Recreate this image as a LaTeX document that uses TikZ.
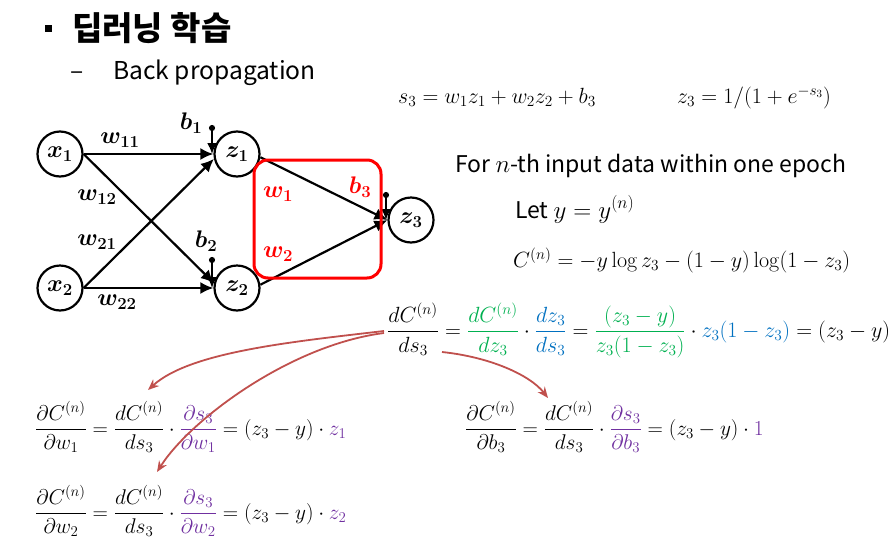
\RequirePackage{fix-cm}
\documentclass[tikz,border=0pt]{standalone}
\usepackage{amsmath,bm}
\usepackage[no-math]{fontspec}
\setmainfont{Noto Sans CJK KR}
\usetikzlibrary{arrows.meta}
\definecolor{cgreen}{RGB}{0,176,80}
\definecolor{cblue}{RGB}{0,112,192}
\definecolor{cpurple}{RGB}{112,48,160}
\definecolor{carrow}{RGB}{192,80,77}
\newcommand{\bigmath}[1]{{\fontsize{25}{28}\selectfont$#1$}}
\begin{document}
\begin{tikzpicture}[x=1pt,y=-1pt,
  neuron/.style={circle,draw,line width=2.2pt,minimum size=45pt,inner sep=0pt,font=\fontsize{24}{26}\selectfont},
  conn/.style={line width=2.2pt,-{Latex[length=13pt,width=12pt]}},
  biasline/.style={line width=2pt,{Circle[length=6pt]}-{Latex[length=11pt,width=10pt]}},
  lab/.style={inner sep=0pt,font=\fontsize{24}{26}\selectfont},
  eq/.style={inner sep=0pt,anchor=base west,font=\fontsize{22}{26}\selectfont},
  eqb/.style={eq,font=\fontsize{21.3}{26}\selectfont},
  txt/.style={inner sep=0pt,anchor=base west},
  backarrow/.style={carrow,line width=1.8pt,-{Stealth[length=11pt,width=9pt]}}
]
\useasboundingbox (0,0) rectangle (893,549);
% title
\node[fill=black,minimum size=7pt,inner sep=0pt] (bullet) at (48,28) {};
\node[txt,font=\fontsize{33}{36}\selectfont\bfseries] (title) at (72,40) {딥러닝 학습};
\node[txt,font=\fontsize{24.6}{28}\selectfont] (dash) at (70,79) {–};
\node[txt,font=\fontsize{24.6}{28}\selectfont] (sub) at (113,79) {Back propagation};
% network
\node[neuron] (x1) at (60,154) {$\bm{x_1}$};
\node[neuron] (x2) at (60,288) {$\bm{x_2}$};
\node[neuron] (z1) at (237,154) {$\bm{z_1}$};
\node[neuron] (z2) at (237,288) {$\bm{z_2}$};
\node[neuron] (z3) at (411,220) {$\bm{z_3}$};
\draw[conn] (x1.east) -- (z1.west);
\draw[conn] (x1.east) -- (z2.168);
\draw[conn] (x2.east) -- (z1.192);
\draw[conn] (x2.east) -- (z2.west);
\draw[conn] (z1.-8) -- (z3.west);
\draw[conn] (z2.8) -- (z3.west);
\coordinate (b1p) at (212,125);
\coordinate (b2p) at (212,257);
\coordinate (b3p) at (386,192);
\draw[biasline] (b1p) -- (b1p |- z1.center);
\draw[biasline] (b2p) -- (b2p |- z2.center);
\draw[biasline] (b3p) -- (b3p |- z3.center);
\node[lab] (lb1) at (191,123) {$\bm{b_1}$};
\node[lab] (lb2) at (206,241) {$\bm{b_2}$};
\node[lab,text=red] (lb3) at (360,187) {$\bm{b_3}$};
\node[lab] (lw11) at (120,140) {$\bm{w_{11}}$};
\node[lab] (lw12) at (97,197) {$\bm{w_{12}}$};
\node[lab] (lw21) at (97,242) {$\bm{w_{21}}$};
\node[lab] (lw22) at (117,302) {$\bm{w_{22}}$};
\node[lab,text=red] (lw1) at (278,194) {$\bm{w_1}$};
\node[lab,text=red] (lw2) at (278,254) {$\bm{w_2}$};
\node[draw=red,line width=3pt,rounded corners=14pt,minimum width=127pt,minimum height=118pt,inner sep=0pt] (box) at (317.5,219) {};
% equations
\node[eq] (e1) at (398,103) {$s_3 = w_1 z_1 + w_2 z_2 + b_3$};
\node[eq] (e2) at (677,103) {$z_3 = 1/(1+e^{-s_3})$};
\node[txt,font=\fontsize{23}{26}\selectfont] (for) at (455,172) {For \bigmath{n}-th input data within one epoch};
\node[txt,font=\fontsize{23}{26}\selectfont] (let) at (515,218) {Let \bigmath{y = y^{(n)}}};
\node[eq] (cost) at (513,267) {$C^{(n)} = -y\log z_3 - (1-y)\log(1-z_3)$};
\node[eq] (main) at (387,337) {$\dfrac{dC^{(n)}}{ds_3} = {\color{cgreen}\dfrac{dC^{(n)}}{dz_3}}\cdot{\color{cblue}\dfrac{dz_3}{ds_3}} = {\color{cgreen}\dfrac{(z_3-y)}{z_3(1-z_3)}}\cdot{\color{cblue}z_3(1-z_3)} = (z_3-y)$};
\node[eqb] (gw1) at (35,435) {$\dfrac{\partial C^{(n)}}{\partial w_1} = \dfrac{dC^{(n)}}{ds_3}\cdot{\color{cpurple}\dfrac{\partial s_3}{\partial w_1}} = (z_3-y)\cdot{\color{cpurple}z_1}$};
\node[eqb] (gw2) at (35,519) {$\dfrac{\partial C^{(n)}}{\partial w_2} = \dfrac{dC^{(n)}}{ds_3}\cdot{\color{cpurple}\dfrac{\partial s_3}{\partial w_2}} = (z_3-y)\cdot{\color{cpurple}z_2}$};
\node[eqb] (gb3) at (465,435) {$\dfrac{\partial C^{(n)}}{\partial b_3} = \dfrac{dC^{(n)}}{ds_3}\cdot{\color{cpurple}\dfrac{\partial s_3}{\partial b_3}} = (z_3-y)\cdot{\color{cpurple}1}$};
% curved arrows
\coordinate (s1) at (384,331);
\coordinate (s2) at (384,333);
\coordinate (s3) at (442,352);
\coordinate (t1) at (148,390);
\coordinate (t2) at (157,472);
\coordinate (t3) at (548,398);
\draw[backarrow] (s1) .. controls (290,342) and (190,352) .. (t1);
\draw[backarrow] (s2) .. controls (290,345) and (190,420) .. (t2);
\draw[backarrow] (s3) .. controls (490,357) and (530,375) .. (t3);
\end{tikzpicture}
\end{document}
